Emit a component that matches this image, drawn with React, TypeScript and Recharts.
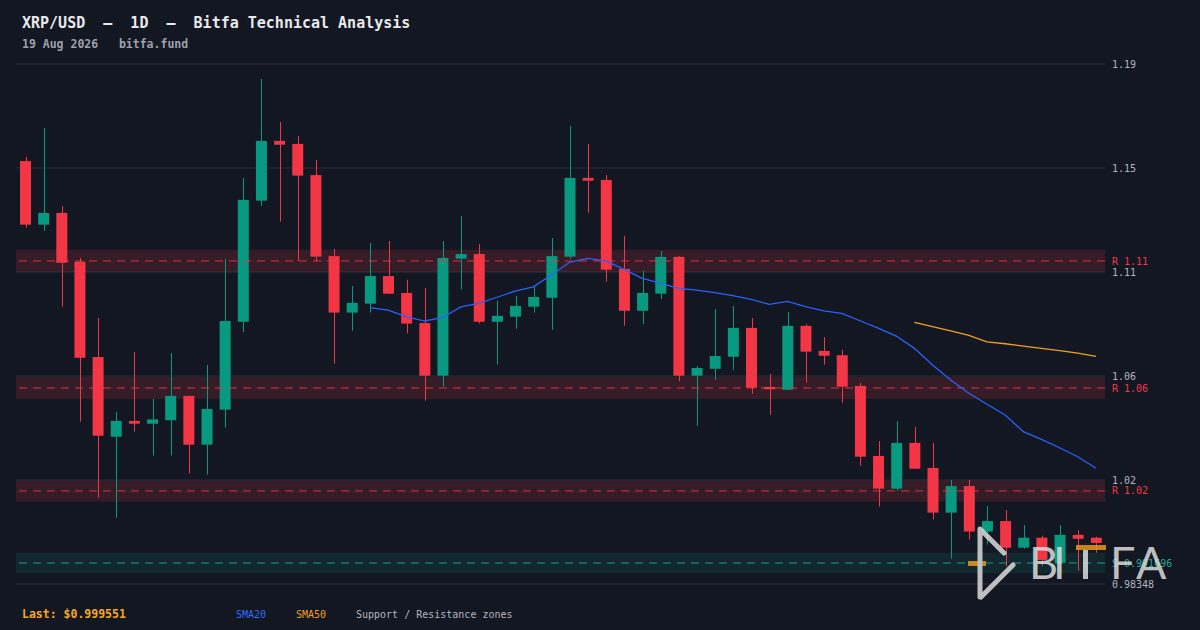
import React from 'react'
import {
  Bar,
  CartesianGrid,
  ComposedChart,
  Line,
  ReferenceArea,
  ReferenceLine,
  XAxis,
  YAxis,
} from 'recharts'

// XRP/USD daily candles with SMA20 / SMA50 and support / resistance zones.

const days = [
  '21 Jun', '22 Jun', '23 Jun', '24 Jun', '25 Jun', '26 Jun', '27 Jun', '28 Jun', '29 Jun', '30 Jun',
  '1 Jul', '2 Jul', '3 Jul', '4 Jul', '5 Jul', '6 Jul', '7 Jul', '8 Jul', '9 Jul', '10 Jul',
  '11 Jul', '12 Jul', '13 Jul', '14 Jul', '15 Jul', '16 Jul', '17 Jul', '18 Jul', '19 Jul', '20 Jul',
  '21 Jul', '22 Jul', '23 Jul', '24 Jul', '25 Jul', '26 Jul', '27 Jul', '28 Jul', '29 Jul', '30 Jul',
  '31 Jul', '1 Aug', '2 Aug', '3 Aug', '4 Aug', '5 Aug', '6 Aug', '7 Aug', '8 Aug', '9 Aug',
  '10 Aug', '11 Aug', '12 Aug', '13 Aug', '14 Aug', '15 Aug', '16 Aug', '17 Aug', '18 Aug', '19 Aug',
]

const opens = [
  1.149, 1.1241, 1.1287, 1.1096, 1.0723, 1.0411, 1.0473, 1.0462, 1.0476, 1.0571,
  1.038, 1.0517, 1.0861, 1.1335, 1.1569, 1.1557, 1.1435, 1.1118, 1.0897, 1.0932,
  1.104, 1.0974, 1.0856, 1.065, 1.1108, 1.1126, 1.0861, 1.0881, 1.092, 1.0955,
  1.1116, 1.1424, 1.1416, 1.1068, 1.0904, 1.0971, 1.1115, 1.065, 1.0677, 1.0724,
  1.0837, 1.0606, 1.0595, 1.0845, 1.0747, 1.073, 1.061, 1.0336, 1.0208, 1.0387,
  1.0289, 1.0114, 1.0218, 1.004, 1.0081, 0.9977, 1.0016, 0.9918, 1.0027, 1.0016,
]
const highs = [
  1.1506, 1.1619, 1.1314, 1.1111, 1.0876, 1.0508, 1.0743, 1.0559, 1.0739, 1.0572,
  1.0692, 1.1107, 1.1424, 1.1811, 1.1643, 1.1588, 1.1494, 1.1146, 1.1001, 1.1169,
  1.1177, 1.1025, 1.0993, 1.1177, 1.1275, 1.1165, 1.0944, 1.0962, 1.1002, 1.1189,
  1.1627, 1.1557, 1.1435, 1.1197, 1.106, 1.1138, 1.1118, 1.0688, 1.0911, 1.0923,
  1.0876, 1.0657, 1.0899, 1.0852, 1.0801, 1.0751, 1.0621, 1.0394, 1.0473, 1.0449,
  1.0387, 1.0242, 1.0242, 1.014, 1.0124, 1.0066, 1.0024, 1.0066, 1.0046, 1.002,
]
const lows = [
  1.1229, 1.1217, 1.092, 1.047, 1.0173, 1.0094, 1.0431, 1.0337, 1.0337, 1.0267,
  1.0263, 1.0446, 1.082, 1.1315, 1.1253, 1.1099, 1.1099, 1.0697, 1.0826, 1.0897,
  1.097, 1.0816, 1.0552, 1.0607, 1.0987, 1.0854, 1.0693, 1.0834, 1.0897, 1.083,
  1.1108, 1.1288, 1.1018, 1.0846, 1.0852, 1.095, 1.0629, 1.0454, 1.0634, 1.0673,
  1.058, 1.0497, 1.0594, 1.0623, 1.0693, 1.0544, 1.0298, 1.0138, 1.02, 1.0285,
  1.0087, 0.9934, 1.0008, 0.9989, 0.9905, 0.9973, 0.9905, 0.9883, 0.9887, 0.9957,
]
const closes = [
  1.1241, 1.1287, 1.1092, 1.072, 1.0415, 1.0473, 1.0462, 1.0479, 1.0571, 1.038,
  1.052, 1.0864, 1.1338, 1.1569, 1.1554, 1.1433, 1.1116, 1.0897, 1.0935, 1.104,
  1.0971, 1.0854, 1.065, 1.1111, 1.1126, 1.0861, 1.0884, 1.0923, 1.0958, 1.1118,
  1.1424, 1.1413, 1.1065, 1.0904, 1.0974, 1.1115, 1.065, 1.068, 1.0727, 1.0837,
  1.0603, 1.0597, 1.0845, 1.0744, 1.0728, 1.0607, 1.0333, 1.0208, 1.0387, 1.0286,
  1.0114, 1.0218, 1.004, 1.0081, 0.9977, 1.0016, 0.9929, 1.0027, 1.0012, 0.999551,
]

const sma20 = [
  null, null, null, null, null, null, null, null, null, null,
  null, null, null, null, null, null, null, null, null, 1.0916,
  1.0907, 1.0881, 1.0864, 1.0877, 1.0919, 1.0933, 1.0957, 1.0981, 1.0998, 1.1044,
  1.1094, 1.1109, 1.1099, 1.1066, 1.1031, 1.1012, 1.0992, 1.0985, 1.0975, 1.0963,
  1.0949, 1.0929, 1.0941, 1.092, 1.0904, 1.0894, 1.0865, 1.0836, 1.0805, 1.0757,
  1.0692, 1.0633, 1.0581, 1.0538, 1.0496, 1.0431, 1.0401, 1.0368, 1.0333, 1.0288,
]
const sma50 = [
  null, null, null, null, null, null, null, null, null, null,
  null, null, null, null, null, null, null, null, null, null,
  null, null, null, null, null, null, null, null, null, null,
  null, null, null, null, null, null, null, null, null, null,
  null, null, null, null, null, null, null, null, null, 1.0859,
  1.0842, 1.0825, 1.0808, 1.0782, 1.0775, 1.0766, 1.0757, 1.0748, 1.0738, 1.0726,
]

const tickValues = [0.98348, 1.02418, 1.06488, 1.10558, 1.14628, 1.18698]
const tickLabels = ['0.98348', '1.02', '1.06', '1.11', '1.15', '1.19']

const resistanceLevels = [1.1099, 1.0602, 1.0199]
const resistanceLabels = ['R 1.11', 'R 1.06', 'R 1.02']
const resistanceLow = [1.1055, 1.0559, 1.0158]
const resistanceHigh = [1.1143, 1.0645, 1.024]
const supportLevel = 0.991696
const supportLow = 0.9877
const supportHigh = 0.9957

const BG = '#131722'
const UP = '#089981'
const DOWN = '#f23645'
const MONO = '"DejaVu Sans Mono", monospace'

const rows = days.map((day, i) => ({
  day,
  open: opens[i],
  high: highs[i],
  low: lows[i],
  close: closes[i],
  range: [lows[i], highs[i]],
  sma20: sma20[i],
  sma50: sma50[i],
}))

function Candle(props: any) {
  const { x, y, width, height, payload } = props
  if (!payload || x == null) return null
  const top = Math.min(y, y + height)
  const bottom = Math.max(y, y + height)
  const span = payload.high - payload.low || 1
  const toY = (v: number) => top + ((payload.high - v) / span) * (bottom - top)
  const up = payload.close >= payload.open
  const color = up ? UP : DOWN
  const bodyTop = toY(Math.max(payload.open, payload.close))
  const bodyBottom = toY(Math.min(payload.open, payload.close))
  const cx = Math.round(x + width / 2) + 0.5
  return (
    <g>
      <line x1={cx} x2={cx} y1={top} y2={bottom} stroke={color} strokeWidth={1} />
      <rect
        x={x}
        y={bodyTop}
        width={width}
        height={Math.max(bodyBottom - bodyTop, 2)}
        fill={color}
      />
    </g>
  )
}

// bitfa watermark, bottom right
function Logo() {
  const letter = { fontFamily: 'Lato, sans-serif', fontSize: 45, fill: '#dcdcdc' }
  return (
    <svg
      width={1200}
      height={630}
      style={{ position: 'absolute', left: 0, top: 0, pointerEvents: 'none' }}
    >
      <g opacity={0.85}>
        <rect x={968} y={561} width={18} height={5} fill="#e8961e" />
        <path
          d="M980 597 L980 529 L1004 553 M1013 565 L981 597"
          fill="none"
          stroke="#dcdcdc"
          strokeWidth={5}
          strokeLinecap="round"
          strokeLinejoin="round"
        />
        <text x={1029} y={579} {...letter}>B</text>
        <text x={1053} y={579} {...letter}>I</text>
        <rect x={1083} y={547} width={5} height={32} fill="#dcdcdc" />
        <rect x={1076} y={545} width={30} height={5} fill="#e8961e" />
        <text x={1110} y={579} {...letter}>F</text>
        <text x={1136} y={579} {...letter}>A</text>
      </g>
    </svg>
  )
}

export default function App() {
  return (
    <div
      style={{
        position: 'absolute',
        left: 0,
        top: 0,
        width: 1200,
        height: 630,
        background: BG,
        overflow: 'hidden',
        fontFamily: MONO,
      }}
    >
      <div style={{ position: 'absolute', left: 22, top: 14, color: '#e8e9ec', fontSize: 15, fontWeight: 'bold', whiteSpace: 'pre' }}>
        {'XRP/USD  —  1D  —  Bitfa Technical Analysis'}
      </div>
      <div style={{ position: 'absolute', left: 22, top: 37, color: '#9da1aa', fontSize: 11.5, fontWeight: 'bold', whiteSpace: 'pre' }}>
        {'19 Aug 2026   bitfa.fund'}
      </div>

      <ComposedChart
        width={1200}
        height={630}
        data={rows}
        margin={{ top: 64, right: 5, bottom: 46, left: 16 }}
        style={{ position: 'absolute', left: 0, top: 0 }}
      >
        <CartesianGrid vertical={false} stroke="#2a2e39" strokeWidth={1} />
        <XAxis dataKey="day" hide />
        <YAxis
          orientation="right"
          width={90}
          domain={[tickValues[0], tickValues[tickValues.length - 1]]}
          ticks={tickValues}
          allowDataOverflow
          axisLine={false}
          tickLine={false}
          tickSize={6}
          tickMargin={1}
          tickFormatter={(v: number) => tickLabels[tickValues.indexOf(v)] ?? String(v)}
          tick={{ fill: '#b2b5be', fontSize: 10, fontFamily: MONO, textAnchor: 'start' }}
        />
        {resistanceLevels.map((lvl, i) => (
          <ReferenceArea
            key={`rz${i}`}
            y1={resistanceLow[i]}
            y2={resistanceHigh[i]}
            fill={DOWN}
            fillOpacity={0.16}
            stroke="none"
          />
        ))}
        <ReferenceArea y1={supportLow} y2={supportHigh} fill={UP} fillOpacity={0.13} stroke="none" />
        {resistanceLevels.map((lvl, i) => (
          <ReferenceLine
            key={`rl${i}`}
            y={lvl}
            stroke={DOWN}
            strokeOpacity={0.85}
            strokeDasharray="8 6"
            label={{
              value: resistanceLabels[i],
              position: 'right',
              offset: 7,
              fill: DOWN,
              fontSize: 10,
              fontFamily: MONO,
            }}
          />
        ))}
        <ReferenceLine
          y={supportLevel}
          stroke="#22ab94"
          strokeOpacity={0.85}
          strokeDasharray="8 6"
          label={{
            value: `S ${supportLevel}`,
            position: 'right',
            offset: 7,
            fill: '#22ab94',
            fontSize: 10,
            fontFamily: MONO,
          }}
        />
        <Bar dataKey="range" barSize={11} shape={<Candle />} isAnimationActive={false} />
        <Line
          dataKey="sma20"
          stroke="#2962ff"
          strokeWidth={1.3}
          dot={false}
          activeDot={false}
          isAnimationActive={false}
        />
        <Line
          dataKey="sma50"
          stroke="#f0a020"
          strokeWidth={1.3}
          dot={false}
          activeDot={false}
          isAnimationActive={false}
        />
      </ComposedChart>

      <Logo />

      <div style={{ position: 'absolute', left: 22, top: 607, color: '#f7a823', fontSize: 11.5, fontWeight: 'bold', whiteSpace: 'pre' }}>
        {`Last: $${closes[closes.length - 1]}`}
      </div>
      <div style={{ position: 'absolute', left: 236, top: 609, color: '#2f6bff', fontSize: 10 }}>SMA20</div>
      <div style={{ position: 'absolute', left: 296, top: 609, color: '#f0a020', fontSize: 10 }}>SMA50</div>
      <div style={{ position: 'absolute', left: 356, top: 609, color: '#b2b5be', fontSize: 10 }}>
        Support / Resistance zones
      </div>
    </div>
  )
}
